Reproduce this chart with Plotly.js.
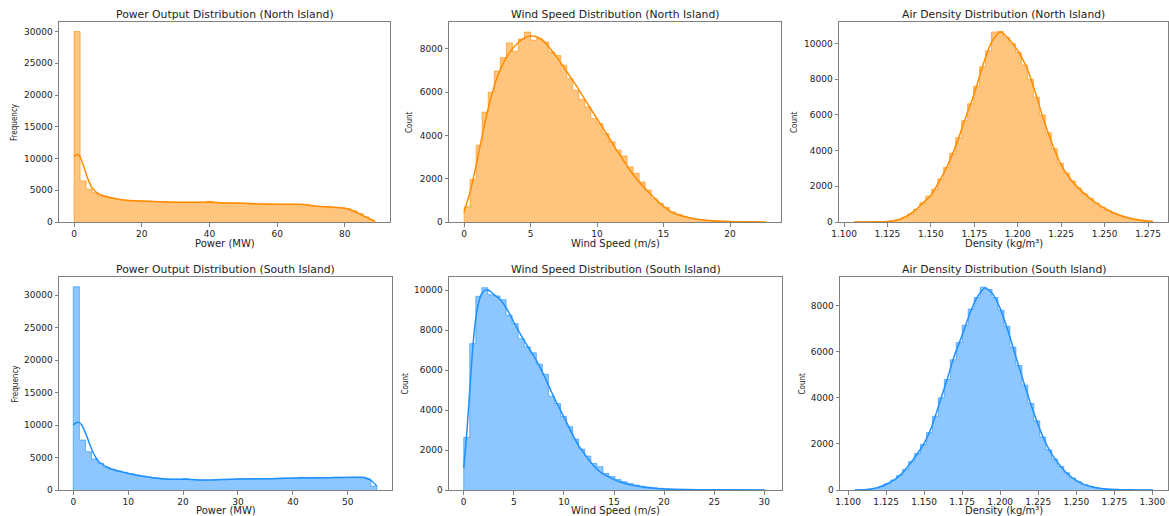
<!DOCTYPE html>
<html><head><meta charset="utf-8">
<script src="https://cdn.plot.ly/plotly-3.0.1.min.js"></script>
<style>html,body{margin:0;padding:0;background:#fff}#chart{width:1169px;height:516px}</style>
</head><body><div id="chart"></div><script>
// ---------- data (50-bin histograms + KDE curves) ----------
const powerNorthBinStart = 0, powerNorthBinWidth = 1.778;
const powerNorthCounts = [30000, 6470, 5160, 4600, 4100, 3900, 3750, 3550, 3450, 3400,
  3350, 3300, 3300, 3250, 3200, 3150, 3150, 3100, 3100, 3100,
  3100, 3100, 3250, 3100, 3000, 3000, 2950, 3000, 2900, 2850,
  2850, 2850, 2800, 2800, 2750, 2750, 2800, 2800, 2750, 2500,
  2450, 2400, 2350, 2300, 2250, 2100, 1750, 1350, 800, 250];
const powerNorthKdeX = [0, 0.5, 1, 1.5, 2, 2.5, 3, 3.5, 4, 5, 6, 7, 8, 9, 10, 12, 14, 16, 18, 20, 25, 30, 35, 40, 45, 50, 55, 60, 65, 68, 70, 73, 76, 78, 80, 82, 84, 86, 88, 88.9];
const powerNorthKdeY = [10300, 10550, 10650, 10500, 10000, 9300, 8500, 7700, 6900, 5700, 4950, 4500, 4250, 4100, 3950, 3700, 3500, 3400, 3350, 3300, 3200, 3100, 3100, 3100, 3000, 2950, 2850, 2800, 2800, 2750, 2600, 2450, 2350, 2300, 2150, 1850, 1400, 850, 350, 150];

const windNorthBinStart = 0, windNorthBinWidth = 0.454;
const windNorthCounts = [700, 1970, 3550, 5080, 6000, 6980, 7600, 8280, 7890, 8460,
  8780, 8400, 8480, 8320, 7860, 7700, 7250, 6630, 6090, 5660,
  5320, 4780, 4550, 4090, 3710, 3320, 3050, 2550, 2250, 1850,
  1480, 1080, 860, 680, 460, 350, 260, 190, 130, 100,
  70, 50, 35, 25, 18, 12, 8, 5, 3, 2];
const windNorthKdeX = [0, 0.5, 1, 1.5, 2, 2.5, 3, 3.5, 4, 4.5, 5, 5.5, 6, 6.5, 7, 7.5, 8, 8.5, 9, 9.5, 10, 10.5, 11, 11.5, 12, 12.5, 13, 13.5, 14, 14.5, 15, 15.5, 16, 17, 18, 19, 20, 21, 22.7];
const windNorthKdeY = [450, 1500, 2900, 4400, 5700, 6700, 7400, 7900, 8250, 8500, 8600, 8550, 8350, 8000, 7600, 7150, 6700, 6250, 5750, 5250, 4780, 4280, 3790, 3300, 2830, 2370, 1980, 1620, 1310, 1000, 720, 500, 360, 190, 90, 45, 22, 10, 3];

const densNorthBinStart = 1.1057, densNorthBinWidth = 0.003444;
const densNorthCounts = [2, 3, 5, 8, 15, 30, 70, 140, 270, 450,
  720, 1080, 1450, 1850, 2410, 3070, 3850, 4730, 5680, 6630,
  7610, 8700, 9600, 10650, 10680, 10350, 10000, 9500, 8800, 8000,
  7000, 6000, 5000, 4100, 3300, 2750, 2300, 1910, 1590, 1320,
  1060, 820, 640, 480, 350, 250, 170, 110, 65, 30];
const densNorthKdeX = [1.1057, 1.11, 1.115, 1.12, 1.125, 1.13, 1.135, 1.14, 1.145, 1.15, 1.155, 1.16, 1.165, 1.17, 1.175, 1.18, 1.185, 1.19, 1.195, 1.2, 1.205, 1.21, 1.215, 1.22, 1.225, 1.23, 1.235, 1.24, 1.245, 1.25, 1.255, 1.26, 1.265, 1.27, 1.2779];
const densNorthKdeY = [2, 3, 6, 12, 28, 100, 270, 580, 1030, 1500, 2300, 3250, 4450, 5850, 7200, 8800, 10100, 10650, 10250, 9600, 8700, 7300, 5700, 4350, 3200, 2450, 1900, 1450, 1080, 770, 520, 340, 205, 110, 30];

const powerSouthBinStart = 0, powerSouthBinWidth = 1.106;
const powerSouthCounts = [31260, 7690, 5900, 4770, 4100, 3490, 3180, 2920, 2720, 2510,
  2300, 2150, 2000, 1900, 1800, 1700, 1650, 1650, 1750, 1600,
  1550, 1500, 1500, 1550, 1600, 1650, 1650, 1700, 1700, 1700,
  1700, 1750, 1750, 1800, 1800, 1800, 1850, 1950, 1850, 1850,
  1850, 1900, 1900, 1950, 1950, 1950, 1950, 1950, 1700, 600];
const powerSouthKdeX = [0, 0.5, 1.03, 1.55, 2.06, 2.58, 3.1, 3.6, 4.1, 4.6, 5.2, 6.2, 7.2, 8.3, 9.3, 10.3, 11.4, 12.4, 14.4, 16.5, 18.6, 20.6, 22.7, 24.8, 26.8, 28.9, 31, 36.1, 41.3, 46.4, 51.6, 53.2, 54.2, 55.3];
const powerSouthKdeY = [10000, 10350, 10400, 10000, 9100, 8000, 6800, 5800, 5000, 4400, 4000, 3500, 3150, 2900, 2700, 2500, 2300, 2150, 1900, 1700, 1650, 1650, 1550, 1550, 1600, 1650, 1700, 1750, 1850, 1900, 1950, 1900, 1500, 600];

const windSouthBinStart = 0, windSouthBinWidth = 0.604;
const windSouthCounts = [2630, 7330, 9700, 10130, 9780, 9720, 9530, 8750, 8330, 7580,
  7170, 6870, 6300, 5800, 4700, 4330, 3680, 3170, 2550, 2050,
  1700, 1330, 1170, 830, 670, 530, 420, 330, 250, 190,
  150, 110, 85, 65, 50, 38, 30, 22, 17, 13,
  10, 8, 6, 5, 4, 3, 2, 2, 1, 1];
const windSouthKdeX = [0, 0.3, 0.6, 0.9, 1.2, 1.5, 1.8, 2.1, 2.5, 3, 3.5, 4, 4.5, 5, 5.5, 6, 6.5, 7, 7.5, 8, 8.5, 9, 9.5, 10, 10.5, 11, 11.5, 12, 12.5, 13, 13.5, 14, 15, 16, 17, 18, 19, 20, 22, 25, 30];
const windSouthKdeY = [1100, 2800, 5000, 7100, 8600, 9400, 9850, 10000, 10000, 9800, 9600, 9300, 8900, 8400, 7950, 7500, 7100, 6700, 6250, 5750, 5200, 4650, 4150, 3650, 3150, 2650, 2200, 1850, 1500, 1200, 950, 780, 520, 340, 220, 140, 90, 55, 25, 7, 1];

const densSouthBinStart = 1.1045, densSouthBinWidth = 0.00392;
const densSouthCounts = [5, 12, 30, 70, 150, 270, 430, 630, 900, 1230,
  1580, 1980, 2500, 3200, 4000, 4800, 5650, 6400, 7150, 7850,
  8350, 8800, 8700, 8350, 7800, 7100, 6200, 5400, 4550, 3750,
  3000, 2300, 1750, 1350, 1020, 750, 520, 360, 240, 160,
  100, 60, 36, 20, 12, 7, 4, 2, 1, 1];
const densSouthKdeX = [1.1045, 1.11, 1.115, 1.12, 1.125, 1.13, 1.135, 1.14, 1.145, 1.15, 1.155, 1.16, 1.165, 1.17, 1.175, 1.18, 1.185, 1.19, 1.195, 1.2, 1.205, 1.21, 1.215, 1.22, 1.225, 1.23, 1.235, 1.24, 1.245, 1.25, 1.255, 1.26, 1.265, 1.27, 1.28, 1.29, 1.3005];
const densSouthKdeY = [2, 10, 45, 115, 250, 430, 690, 1080, 1520, 2020, 2740, 3750, 4770, 5850, 6710, 7650, 8380, 8770, 8520, 7870, 6930, 5850, 4770, 3750, 2820, 2020, 1440, 1010, 650, 420, 245, 145, 80, 40, 12, 4, 1];

const titles = ["Power Output Distribution (North Island)", "Wind Speed Distribution (North Island)", "Air Density Distribution (North Island)",
  "Power Output Distribution (South Island)", "Wind Speed Distribution (South Island)", "Air Density Distribution (South Island)"];
const xLabels = ["Power (MW)", "Wind Speed (m/s)", "Density (kg/m³)", "Power (MW)", "Wind Speed (m/s)", "Density (kg/m³)"];
const yLabels = ["Frequency", "Count", "Count", "Frequency", "Count", "Count"];

// ---------- styling ----------
const ORANGE = '#ff8c00', ORANGE_FILL = 'rgba(255,140,0,0.5)', ORANGE_EDGE = 'rgba(255,140,0,0.6)';
const BLUE = '#1e90ff', BLUE_FILL = 'rgba(30,144,255,0.5)', BLUE_EDGE = 'rgba(30,144,255,0.6)';
const W = 1169, H = 516;

function stepTrace(start, width, counts, edge, fill, k) {
  const x = [start], y = [0];
  counts.forEach((c, i) => { x.push(start + i * width); y.push(c); });
  const end = start + counts.length * width;
  x.push(end); y.push(counts[counts.length - 1]);
  x.push(end); y.push(0);
  return {type: 'scatter', mode: 'lines', x, y, line: {shape: 'hv', color: edge, width: 1},
    fill: 'tozeroy', fillcolor: fill, xaxis: 'x' + (k === 1 ? '' : k), yaxis: 'y' + (k === 1 ? '' : k),
    hoverinfo: 'skip', showlegend: false};
}
function kdeTrace(x, y, color, k) {
  return {type: 'scatter', mode: 'lines', x, y, line: {color, width: 1.5, shape: 'spline', smoothing: 0.6},
    xaxis: 'x' + (k === 1 ? '' : k), yaxis: 'y' + (k === 1 ? '' : k), hoverinfo: 'skip', showlegend: false};
}

const traces = [
  stepTrace(powerNorthBinStart, powerNorthBinWidth, powerNorthCounts, ORANGE_EDGE, ORANGE_FILL, 1),
  kdeTrace(powerNorthKdeX, powerNorthKdeY, ORANGE, 1),
  stepTrace(windNorthBinStart, windNorthBinWidth, windNorthCounts, ORANGE_EDGE, ORANGE_FILL, 2),
  kdeTrace(windNorthKdeX, windNorthKdeY, ORANGE, 2),
  stepTrace(densNorthBinStart, densNorthBinWidth, densNorthCounts, ORANGE_EDGE, ORANGE_FILL, 3),
  kdeTrace(densNorthKdeX, densNorthKdeY, ORANGE, 3),
  stepTrace(powerSouthBinStart, powerSouthBinWidth, powerSouthCounts, BLUE_EDGE, BLUE_FILL, 4),
  kdeTrace(powerSouthKdeX, powerSouthKdeY, BLUE, 4),
  stepTrace(windSouthBinStart, windSouthBinWidth, windSouthCounts, BLUE_EDGE, BLUE_FILL, 5),
  kdeTrace(windSouthKdeX, windSouthKdeY, BLUE, 5),
  stepTrace(densSouthBinStart, densSouthBinWidth, densSouthCounts, BLUE_EDGE, BLUE_FILL, 6),
  kdeTrace(densSouthKdeX, densSouthKdeY, BLUE, 6),
];

// panel pixel boxes [left, right, top, bottom]
const boxes = [[59, 390, 22, 222], [449, 781, 22, 222], [839, 1168, 22, 222],
               [59, 392, 277, 490], [449, 782, 277, 490], [840, 1168, 277, 490]];
const xRanges = [[-4.45, 93.35], [-1.135, 23.835], [1.0971, 1.2865], [-2.6, 58.05], [-1.47, 31.77], [1.0947, 1.3103]];
const yRanges = [[0, 31500], [0, 9246], [0, 11213], [0, 32770], [0, 10667], [0, 9242]];
const xDtick = [20, 5, 0.025, 10, 5, 0.025];
const xTick0 = [0, 0, 1.125, 0, 0, 1.1];
const yDtick = [5000, 2000, 2000, 5000, 2000, 2000];
const yLabelX = [15, 410, 795, 15, 405, 802];

const tickFont = {family: 'DejaVu Sans', size: 9, color: '#222'};
const layout = {width: W, height: H, margin: {l: 0, r: 0, t: 0, b: 0}, paper_bgcolor: '#fff', plot_bgcolor: '#fff',
  showlegend: false, annotations: []};
boxes.forEach((b, i) => {
  const k = i + 1, s = k === 1 ? '' : k;
  const common = {showline: true, mirror: true, linecolor: '#808080', linewidth: 1, ticks: 'outside', ticklen: 3.5,
    tickwidth: 1, tickcolor: '#808080', showgrid: false, zeroline: false, tickfont: tickFont, fixedrange: true};
  layout['xaxis' + s] = Object.assign({}, common, {domain: [b[0] / W, b[1] / W], range: xRanges[i], anchor: 'y' + s,
    tick0: xTick0[i], dtick: xDtick[i], tickformat: (i % 3 === 2) ? '.3f' : 'd'});
  layout['yaxis' + s] = Object.assign({}, common, {domain: [1 - b[3] / H, 1 - b[2] / H], range: yRanges[i], anchor: 'x' + s,
    tick0: 0, dtick: yDtick[i], tickformat: 'd'});
  const cx = (b[0] + b[1]) / 2 / W;
  const row = i < 3 ? 0 : 1;
  layout.annotations.push({text: titles[i], xref: 'paper', yref: 'paper', x: cx, y: 1 - (row ? 269 : 14) / H,
    xanchor: 'center', yanchor: 'middle', showarrow: false, font: {family: 'DejaVu Sans', size: 10.8, color: '#222'}});
  layout.annotations.push({text: xLabels[i], xref: 'paper', yref: 'paper', x: cx, y: 1 - (row ? 510 : 244) / H,
    xanchor: 'center', yanchor: 'middle', showarrow: false, font: {family: 'DejaVu Sans', size: 10, color: '#222'}});
  layout.annotations.push({text: yLabels[i], xref: 'paper', yref: 'paper', x: yLabelX[i] / W, y: 1 - (b[2] + b[3]) / 2 / H,
    xanchor: 'center', yanchor: 'middle', textangle: -90, showarrow: false,
    font: {family: 'DejaVu Sans Condensed, Liberation Sans Narrow, DejaVu Sans', size: 8, color: '#222'}});
});

Plotly.newPlot('chart', traces, layout, {staticPlot: true, displayModeBar: false});
</script></body></html>
